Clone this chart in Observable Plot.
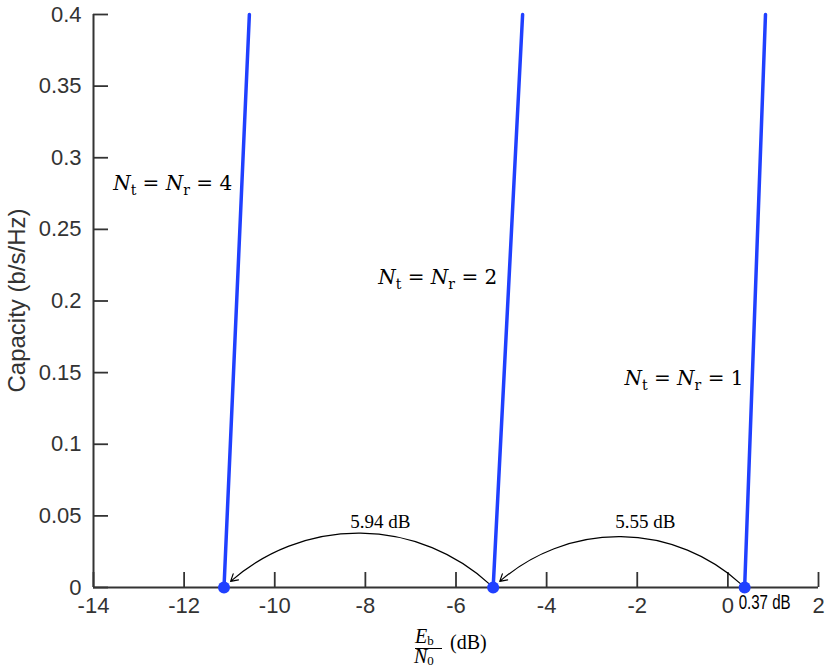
<!DOCTYPE html>
<html>
<head>
<meta charset="utf-8">
<script src="https://cdn.jsdelivr.net/npm/d3@7"></script>
<script src="https://cdn.jsdelivr.net/npm/@observablehq/plot@0.6"></script>
<style>
  html, body { margin: 0; padding: 0; background: white; overflow: hidden; }
</style>
</head>
<body>
<div id="chart"></div>
<script>
// ---- data ----
const antennas = [1, 2, 4];                 // Nt = Nr
const ebn0AtZero = [0.37, -5.18, -11.12];   // Eb/N0 (dB) at capacity 0
const ebn0AtTop = [0.83, -4.53, -10.56];    // Eb/N0 (dB) at capacity 0.4
const capacityLevels = [0, 0.4];
const gapLabels = ["5.55 dB", "5.94 dB"];
const gapLabelX = [-1.82, -7.67];
const gapLabelY = [0.046, 0.046];
const seriesLabelX = [0.345, -5.09, -10.94];
const seriesLabelY = [0.146, 0.216, 0.282];
const xTicks = [-14, -12, -10, -8, -6, -4, -2, 0, 2];
const yTicks = [0, 0.05, 0.1, 0.15, 0.2, 0.25, 0.3, 0.35, 0.4];

const blue = "#2040ff";
const axisColor = "#333333";
const serif = "'Liberation Serif', 'DejaVu Serif', serif";
const mathSerif = "'DejaVu Serif', 'Liberation Serif', serif";

const lineData = [];
antennas.forEach((n, i) => {
  lineData.push({n, x: ebn0AtZero[i], y: capacityLevels[0]});
  lineData.push({n, x: ebn0AtTop[i], y: capacityLevels[1]});
});
const dotData = antennas.map((n, i) => ({n, x: ebn0AtZero[i], y: 0}));
const arrowData = [
  {x1: ebn0AtZero[0], x2: ebn0AtZero[1]},
  {x1: ebn0AtZero[1], x2: ebn0AtZero[2]}
];
const gapData = gapLabels.map((t, i) => ({t, x: gapLabelX[i], y: gapLabelY[i]}));
const seriesLabels = antennas.map((n, i) => ({n, x: seriesLabelX[i], y: seriesLabelY[i]}));

const W = 830, H = 671, mL = 93, mR = 12, mT = 14, mB = 84;
const frameW = W - mL - mR, frameH = H - mT - mB;
const tickLen = 15;

const chart = Plot.plot({
  width: W, height: H,
  marginLeft: mL, marginRight: mR, marginTop: mT, marginBottom: mB,
  x: {domain: [-14, 2]},
  y: {domain: [0, 0.4]},
  style: {fontFamily: "'Liberation Sans', Arial, sans-serif", fontSize: "22px", color: axisColor, background: "white", overflow: "visible"},
  marks: [
    Plot.axisX({ticks: xTicks, tickSize: 0, tickPadding: 10, label: null, tickFormat: d => String(d)}),
    Plot.axisY({ticks: yTicks, tickSize: 0, tickPadding: 12, label: null, tickFormat: d => String(d)}),
    Plot.tickX(xTicks, {x: d => d, insetTop: frameH - tickLen, stroke: axisColor, strokeWidth: 1.8}),
    Plot.tickY(yTicks, {y: d => d, insetRight: frameW - tickLen, stroke: axisColor, strokeWidth: 1.8}),
    Plot.ruleY([0], {stroke: axisColor, strokeWidth: 2}),
    Plot.ruleX([-14], {stroke: axisColor, strokeWidth: 2}),
    Plot.line(lineData, {x: "x", y: "y", z: "n", stroke: blue, strokeWidth: 3.5}),
    Plot.arrow(arrowData, {x1: "x1", y1: 0, x2: "x2", y2: 0, bend: -44, insetStart: 5, insetEnd: 9, stroke: "black", strokeWidth: 1.2, headLength: 10}),
    Plot.dot(dotData, {x: "x", y: "y", r: 6, fill: blue}),
    Plot.text(gapData, {x: "x", y: "y", text: "t", fontFamily: serif, fontSize: 19, fill: "black"}),
    Plot.text([ebn0AtZero[0]], {x: d => d, y: 0, text: d => d + " dB", textAnchor: "start", dx: -6, dy: 15, fontSize: 20, fill: "black", className: "snrlabel"}),
    Plot.text(seriesLabels, {x: "x", y: "y", text: d => String(d.n), textAnchor: "end", fontFamily: mathSerif, fontSize: 20, fill: "black", className: "nlabel"})
  ]
});

document.getElementById("chart").appendChild(chart);

const svg = d3.select(chart);
// Condensed "0.37 dB" label
svg.selectAll(".snrlabel text").attr("textLength", 52).attr("lengthAdjust", "spacingAndGlyphs");

// Build N_t = N_r = n labels with subscripts
svg.selectAll(".nlabel text").each(function() {
  const t = d3.select(this);
  const n = t.text();
  t.text("");
  const parts = [
    {s: "N", italic: true}, {s: "t", sub: true}, {s: " = "},
    {s: "N", italic: true}, {s: "r", sub: true}, {s: " = " + n}
  ];
  let shifted = false;
  parts.forEach(p => {
    const ts = t.append("tspan").text(p.s);
    if (p.italic) ts.attr("font-style", "italic");
    if (p.sub) { ts.attr("font-size", 14).attr("dy", 5); shifted = true; }
    else if (shifted) { ts.attr("dy", -5); shifted = false; }
  });
});

// Y axis label
svg.append("text")
  .attr("transform", `translate(19,${mT + frameH / 2}) rotate(-90)`)
  .attr("text-anchor", "middle")
  .attr("dominant-baseline", "middle")
  .attr("font-size", 24)
  .attr("fill", axisColor)
  .text("Capacity (b/s/Hz)");

// X axis label: Eb/N0 (dB)
const xl = svg.append("g").attr("font-family", serif).attr("fill", "black");
const num = xl.append("text").attr("x", 415).attr("y", 643).attr("text-anchor", "start").attr("font-size", 20);
num.append("tspan").attr("font-style", "italic").text("E");
num.append("tspan").attr("font-size", 13).attr("dy", 2).text("b");
xl.append("line").attr("x1", 415).attr("x2", 442).attr("y1", 648.5).attr("y2", 648.5).attr("stroke", "black").attr("stroke-width", 1);
const den = xl.append("text").attr("x", 414).attr("y", 663).attr("text-anchor", "start").attr("font-size", 20);
den.append("tspan").attr("font-style", "italic").text("N");
den.append("tspan").attr("font-size", 13).attr("dy", 2).text("0");
xl.append("text").attr("x", 450).attr("y", 649).attr("text-anchor", "start").attr("font-size", 20).text("(dB)");
</script>
</body>
</html>
